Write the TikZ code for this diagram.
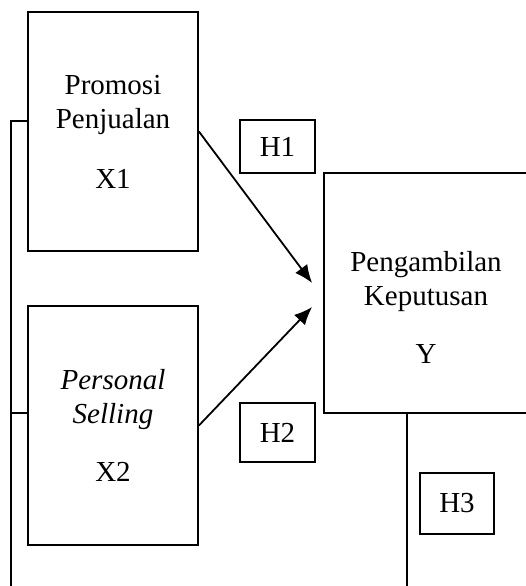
\documentclass[tikz,border=0pt]{standalone}
\usepackage{fontspec}
\setmainfont{Liberation Serif}
\usetikzlibrary{positioning, arrows.meta}

\begin{document}
\begin{tikzpicture}[x=0.5pt, y=0.5pt, line width=0.9pt,
	font=\fontsize{14.5}{17}\selectfont,
	var/.style={draw, rectangle, minimum width=85pt, minimum height=119.5pt, align=center, inner sep=0pt},
	hyp/.style={draw, rectangle, minimum width=37.5pt, inner sep=0pt}]
			\clip (0,0) rectangle (526,586);
			\node[var] (x1) at (113,454.5) {Promosi\\Penjualan\\[13pt]X1};
			\node[var] (x2) at (113,160.5) {\textit{Personal}\\\textit{Selling}\\[12pt]X2};
			\node[var, minimum width=102pt, minimum height=120pt] (y) at (426,293) {};
			\node[align=center] (ylabel) at ([yshift=-7pt]y.center) {Pengambilan\\Keputusan\\[12pt]Y};
			\node[hyp, minimum height=26.5pt] (h1) at (277.5,439.5) {H1};
			\node[hyp, minimum height=29.5pt] (h2) at (277.5,153.5) {H2};
			\node[hyp, minimum width=37pt, minimum height=30.5pt] (h3) at (457,82.5) {H3};
			
			\coordinate (tip1) at ([xshift=-5.5pt, yshift=5pt]y.west);
			\coordinate (tip2) at ([xshift=-5.5pt, yshift=-7pt]y.west);
			\coordinate (lt) at (11,465);
			\coordinate (lm) at (11,173);
			\coordinate (lb) at (11,0);
			\coordinate (yb) at (407,0);
			
			\draw[-{Latex[length=9pt, width=7.5pt]}] (x1.east) -- (tip1);
			\draw[-{Latex[length=9pt, width=7.5pt]}] (x2.east) -- (tip2);
			\draw (x1.west |- lt) -- (lt) -- (lb);
			\draw (x2.west |- lm) -- (lm);
			\draw (y.south -| yb) -- (yb);
		\end{tikzpicture}
\end{document}
